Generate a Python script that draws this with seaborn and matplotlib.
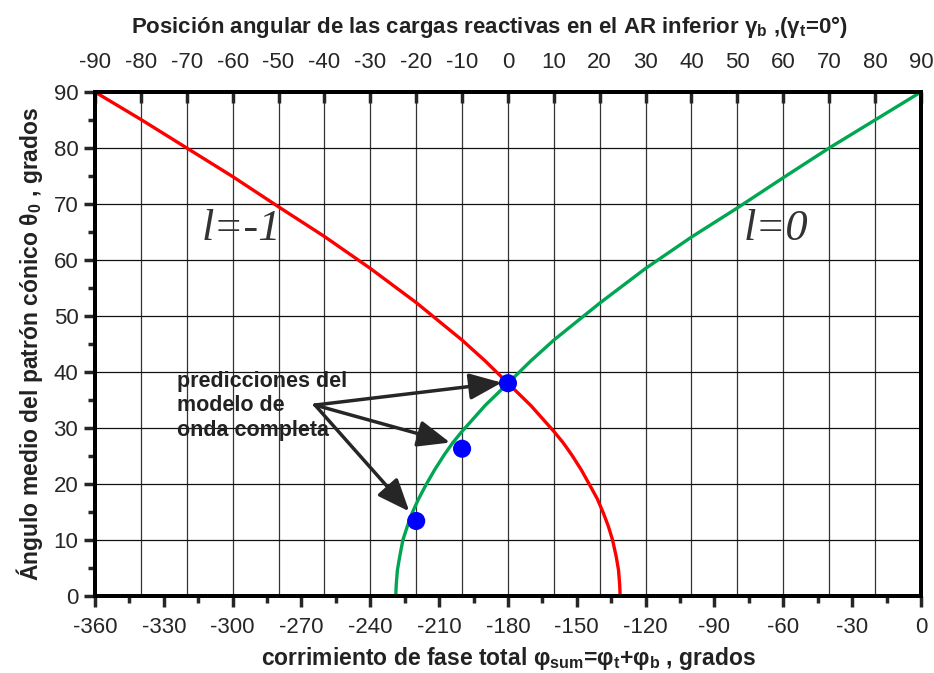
import numpy as np
import pandas as pd
import matplotlib
matplotlib.use("Agg")
import matplotlib.pyplot as plt
import seaborn as sns

# curve l=-1 (red)
red_x = [-360, -340, -320, -300, -280, -260, -240, -220, -200, -190, -180, -170,
         -160, -156, -152.2, -148, -144.2, -141, -138.4, -136.2, -134.4, -132.8,
         -131.8, -131.3, -131.1]
red_y = [90, 85.1, 80, 74.9, 69.5, 64.2, 58.5, 52.4, 45.7, 42, 38, 34.0,
         29.4, 27.4, 25.2, 22.5, 19.7, 17.3, 14.8, 12.4, 10, 7,
         4.6, 2, 0]

# curve l=0 (green)
green_x = [-228.9, -228.7, -228.2, -227.2, -225.8, -223.9, -221.8, -219, -215.8,
           -212, -207.8, -204, -200, -190, -180, -170, -160, -140, -120, -100,
           -80, -60, -40, -20, 0]
green_y = [0, 2, 4.6, 7, 10, 12.4, 14.8, 17.3, 19.8,
           22.5, 25.2, 27.4, 29.4, 34.0, 38, 42, 45.7, 52.3, 58.5, 64.1,
           69.3, 74.7, 80, 85, 90]

# full-wave model predictions (blue dots)
pred_x = [-180, -200, -220]
pred_y = [38, 26.3, 13.4]

bottom_ticks = list(range(-360, 1, 30))
top_ticks = list(range(-90, 91, 10))

red_df = pd.DataFrame({"x": red_x, "y": red_y})
green_df = pd.DataFrame({"x": green_x, "y": green_y})
pred_df = pd.DataFrame({"x": pred_x, "y": pred_y})

sns.set_style("white")
plt.rcParams["font.family"] = ["Liberation Sans", "DejaVu Sans"]
plt.rcParams["mathtext.fontset"] = "dejavusans"
plt.rcParams["mathtext.default"] = "regular"
plt.rcParams["axes.unicode_minus"] = False

fig = plt.figure(figsize=(9.34, 6.73), dpi=100)
ax = fig.add_axes([0.1017, 0.1144, 0.8843, 0.7489])

# top axis (gamma_b) sits behind the main axes so its grid stays under the curves
ax2 = ax.twiny()
ax.set_zorder(ax2.get_zorder() + 1)
ax.patch.set_visible(False)

sns.lineplot(data=red_df, x="x", y="y", ax=ax, color="#ff0000", lw=2.4,
             sort=False, estimator=None)
sns.lineplot(data=green_df, x="x", y="y", ax=ax, color="#00a651", lw=2.4,
             sort=False, estimator=None)
sns.scatterplot(data=pred_df, x="x", y="y", ax=ax, color="#0000ff", s=170,
                edgecolor="none", zorder=5)

ax.set_xlim(-360, 0)
ax.set_ylim(0, 90)
ax.set_xticks(bottom_ticks)
ax.set_xticks(list(range(-345, 0, 30)), minor=True)
ax.set_yticks(list(range(0, 91, 10)))
ax.set_yticks(list(range(5, 90, 10)), minor=True)
ax.grid(axis="y", color="#111111", lw=0.9)
ax.tick_params(axis="both", which="major", direction="out", length=8, width=2.5,
               labelsize=16, bottom=True, left=True, pad=4)
ax.tick_params(axis="x", which="major", pad=7)
ax.tick_params(axis="both", which="minor", direction="out", length=5, width=2.5,
               bottom=True, left=True)

ax2.set_xlim(-90, 90)
ax2.set_xticks(top_ticks)
ax2.grid(axis="x", color="#333333", lw=0.9)
ax2.tick_params(axis="x", direction="in", length=8, width=2.5, labelsize=16,
                top=True, pad=14)

for a in (ax, ax2):
    for sp in a.spines.values():
        sp.set_linewidth(2.8)
        sp.set_color("black")

ax.set_xlabel(r"corrimiento de fase total $\varphi_{sum}$=$\varphi_t$+$\varphi_b$ , grados",
              fontsize=16.5, fontweight="bold", color="#222222", labelpad=5)
ax.set_ylabel(r"Ángulo medio del patrón cónico $\theta_0$ , grados",
              fontsize=16.5, fontweight="bold", color="#222222", labelpad=6)
ax2.set_xlabel(r"Posición angular de las cargas reactivas en el AR inferior $\gamma_b$ ,($\gamma_t$=0°)",
               fontsize=16, fontweight="bold", color="#222222")
ax2.xaxis.set_label_coords(0.478, 1.118)

ax.text(-313.5, 63.6, "l=-1", fontsize=32, style="italic", color="#333333",
        family=["Liberation Serif", "DejaVu Serif"])
ax.text(-77.4, 63.6, "l=0", fontsize=32, style="italic", color="#333333",
        family=["Liberation Serif", "DejaVu Serif"])

ax.text(-324.3, 40.2, "predicciones del\nmodelo de\nonda completa", fontsize=15.5,
        fontweight="bold", color="#222222", va="top", linespacing=1.22)

tail = (-264.1, 34.1)
tips = [(-182.7, 38.1), (-205.2, 27.4), (-223, 15.1)]
for tip in tips:
    ax.annotate("", xy=tip, xytext=tail,
                arrowprops=dict(arrowstyle="-|>,head_length=1.1,head_width=0.45",
                                mutation_scale=18, lw=2.5, color="#262626",
                                shrinkA=0, shrinkB=0))

fig.savefig("out.png", dpi=100)
